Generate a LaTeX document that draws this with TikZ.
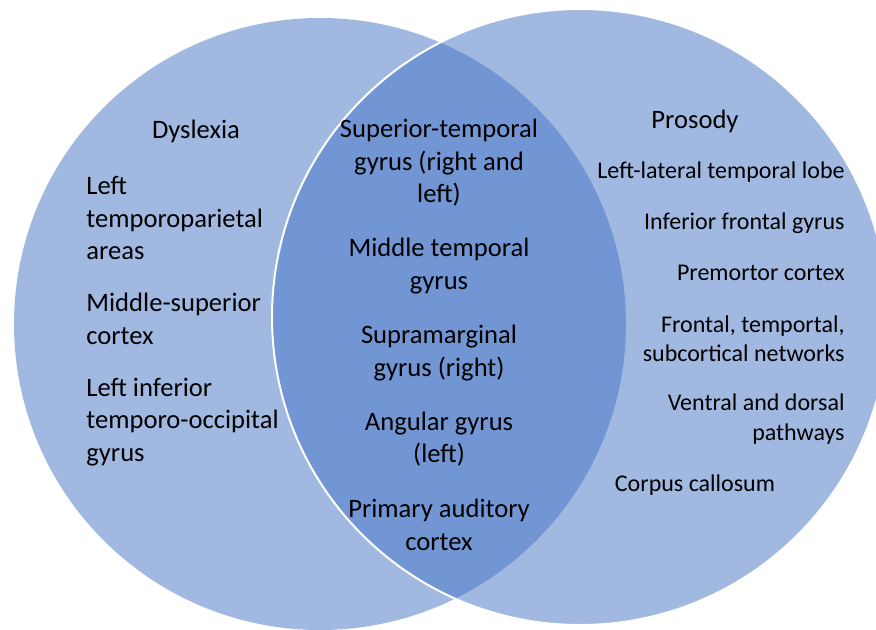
\documentclass[tikz,border=0pt]{standalone}
\usepackage{fontspec}
\setmainfont{Carlito}
\usepackage{tikz}
\usetikzlibrary{positioning}

\definecolor{vennblue}{HTML}{4472C4}

\begin{document}
\begin{tikzpicture}[x=0.5pt,y=-0.5pt,
    venn/.style={circle,fill=vennblue,fill opacity=0.5,inner sep=0pt},
    item/.style={inner sep=0pt,font=\fontsize{13.3}{16.25}\selectfont},
    ritem/.style={item,font=\fontsize{12}{14.6}\selectfont}]

  \useasboundingbox (0,0) rectangle (876,630);
%
  \node [venn,minimum size=306pt] (cl) at (320,324) {} ;
  \node [venn,minimum size=308pt,draw=white,line width=1pt] (cr) at (580,317) {} ;
%
  \node [item] (ltitle) at (196,131) {Dyslexia} ;
  \node [item,align=left,anchor=west] (l1) at (86,218) {Left\\temporoparietal\\areas} ;
  \node [item,align=left,anchor=west] (l2) at (86,319) {Middle-superior\\cortex} ;
  \node [item,align=left,anchor=west] (l3) at (86,422) {Left inferior\\temporo-occipital\\gyrus} ;
%
  \node [item,align=center] (m1) at (439,163) {Superior-temporal\\gyrus (right and\\left)} ;
  \node [item,align=center] (m2) at (439,266) {Middle temporal\\gyrus} ;
  \node [item,align=center] (m3) at (439,353) {Supramarginal\\gyrus (right)} ;
  \node [item,align=center] (m4) at (439,439) {Angular gyrus\\(left)} ;
  \node [item,align=center] (m5) at (439,525) {Primary auditory\\cortex} ;
%
  \node [item] (rtitle) at (695,121) {Prosody} ;
  \node [ritem,anchor=east] (r1) at (845,172) {Left-lateral temporal lobe} ;
  \node [ritem,anchor=east] (r2) at (845,223) {Inferior frontal gyrus} ;
  \node [ritem,anchor=east] (r3) at (845,273) {Premortor cortex} ;
  \node [ritem,align=right,anchor=east] (r4) at (845,338.5) {Frontal, temportal,\\subcortical networks} ;
  \node [ritem,align=right,anchor=east] (r5) at (845,419) {Ventral and dorsal\\pathways} ;
  \node [ritem] (r6) at (695,485) {Corpus callosum} ;

\end{tikzpicture}
\end{document}
